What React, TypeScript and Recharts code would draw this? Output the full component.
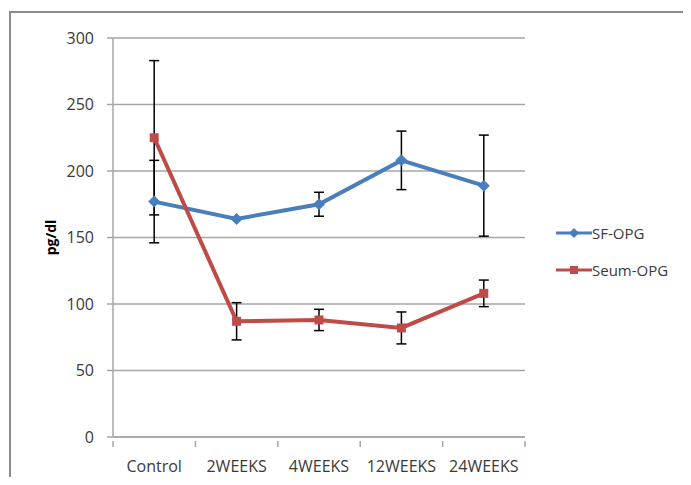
import React from "react";
import {
  ComposedChart,
  Line,
  XAxis,
  YAxis,
  CartesianGrid,
  ErrorBar,
} from "recharts";

const categories = ["Control", "2WEEKS", "4WEEKS", "12WEEKS", "24WEEKS"];
const sfOpg = [177, 164, 175, 208, 189];
const sfOpgErr = [31, 0, 9, 22, 38];
const serumOpg = [225, 87, 88, 82, 108];
const serumOpgErr = [58, 14, 8, 12, 10];
const yTicks = [0, 50, 100, 150, 200, 250, 300];

const BLUE = "#4a7ebb";
const RED = "#be4b48";
const GRID = "#a6a6a6";
const TEXT = "#3a3a3a";
const FONT = "'Open Sans', 'Noto Sans', sans-serif";
const FS = 16;

const CHART_W = 691;
const CHART_H = 485;
const MARGIN = { top: 38, right: 166, bottom: 12, left: 40 };
const Y_W = 73;
const PLOT_W = CHART_W - MARGIN.left - MARGIN.right - Y_W;
const BAND = PLOT_W / categories.length;

const data = categories.map((name, i) => ({
  name,
  sf: sfOpg[i],
  sfErr: sfOpgErr[i],
  serum: serumOpg[i],
  serumErr: serumOpgErr[i],
}));

function Diamond(props: any) {
  const { cx, cy, index } = props;
  if (cx == null || cy == null) return null;
  const r = 6;
  return (
    <path
      key={`d-${index}`}
      d={`M${cx},${cy - r}L${cx + r},${cy}L${cx},${cy + r}L${cx - r},${cy}Z`}
      fill={BLUE}
    />
  );
}

function Square(props: any) {
  const { cx, cy, index } = props;
  if (cx == null || cy == null) return null;
  return <rect key={`s-${index}`} x={cx - 4.5} y={cy - 4.5} width={9} height={9} fill={RED} />;
}

// category labels centred in each band, tick marks on band edges
function XTick(props: any) {
  const { x, y, payload, index } = props;
  const left = x - BAND / 2;
  return (
    <g>
      <line x1={left} y1={y - 4} x2={left} y2={y + 2} stroke={GRID} strokeWidth={1.5} />
      {index === categories.length - 1 ? (
        <line x1={left + BAND} y1={y - 4} x2={left + BAND} y2={y + 2} stroke={GRID} strokeWidth={1.5} />
      ) : null}
      <text x={x} y={y + 27} textAnchor="middle" fill={TEXT} fontSize={FS} fontFamily={FONT}>
        {payload.value}
      </text>
    </g>
  );
}

function LegendBox() {
  const rows = [
    { label: "SF-OPG", color: BLUE, shape: "diamond" },
    { label: "Seum-OPG", color: RED, shape: "square" },
  ];
  return (
    <div style={{ position: "absolute", left: 556, top: 214, fontFamily: FONT, fontSize: FS - 1, color: TEXT }}>
      {rows.map((r) => (
        <div key={r.label} style={{ display: "flex", alignItems: "center", height: 37 }}>
          <svg width={36} height={12}>
            <line x1={0} y1={6} x2={36} y2={6} stroke={r.color} strokeWidth={3} />
            {r.shape === "diamond" ? (
              <path d="M18,1L23,6L18,11L13,6Z" fill={r.color} />
            ) : (
              <rect x={14} y={2} width={8} height={8} fill={r.color} />
            )}
          </svg>
          <span>{r.label}</span>
        </div>
      ))}
    </div>
  );
}

export default function App() {
  return (
    <div style={{ position: "relative", width: CHART_W, height: CHART_H, margin: -8, background: "#fff", overflow: "hidden" }}>
      <div
        style={{
          position: "absolute",
          left: 9,
          top: 11,
          width: 700,
          height: 500,
          borderTop: "2px solid #8c8c8c",
          borderLeft: "2px solid #8c8c8c",
        }}
      />
      <div style={{ position: "absolute", left: 0, top: 0 }}>
        <ComposedChart width={CHART_W} height={CHART_H} data={data} margin={MARGIN}>
          <CartesianGrid vertical={false} stroke={GRID} strokeWidth={1.5} />
          <XAxis
            dataKey="name"
            scale="band"
            height={36}
            stroke={GRID}
            strokeWidth={1.5}
            tickLine={false}
            tick={<XTick />}
            interval={0}
          />
          <YAxis
            width={Y_W}
            domain={[0, 300]}
            ticks={yTicks}
            stroke={GRID}
            strokeWidth={1.5}
            tickSize={6}
            tickMargin={13}
            tick={{ fill: TEXT, fontSize: FS, fontFamily: FONT }}
            label={{
              value: "pg/dl",
              angle: -90,
              position: "insideLeft",
              offset: 11,
              style: { fill: "#000", fontWeight: 700, fontSize: FS - 2, fontFamily: FONT, textAnchor: "middle" },
            }}
          />
          <Line
            dataKey="sf"
            name="SF-OPG"
            stroke={BLUE}
            strokeWidth={4}
            dot={<Diamond />}
            activeDot={false}
            isAnimationActive={false}
          >
            <ErrorBar dataKey="sfErr" width={5} stroke="#000" strokeWidth={1.5} />
          </Line>
          <Line
            dataKey="serum"
            name="Seum-OPG"
            stroke={RED}
            strokeWidth={4}
            dot={<Square />}
            activeDot={false}
            isAnimationActive={false}
          >
            <ErrorBar dataKey="serumErr" width={5} stroke="#000" strokeWidth={1.5} />
          </Line>
        </ComposedChart>
      </div>
      <LegendBox />
    </div>
  );
}
